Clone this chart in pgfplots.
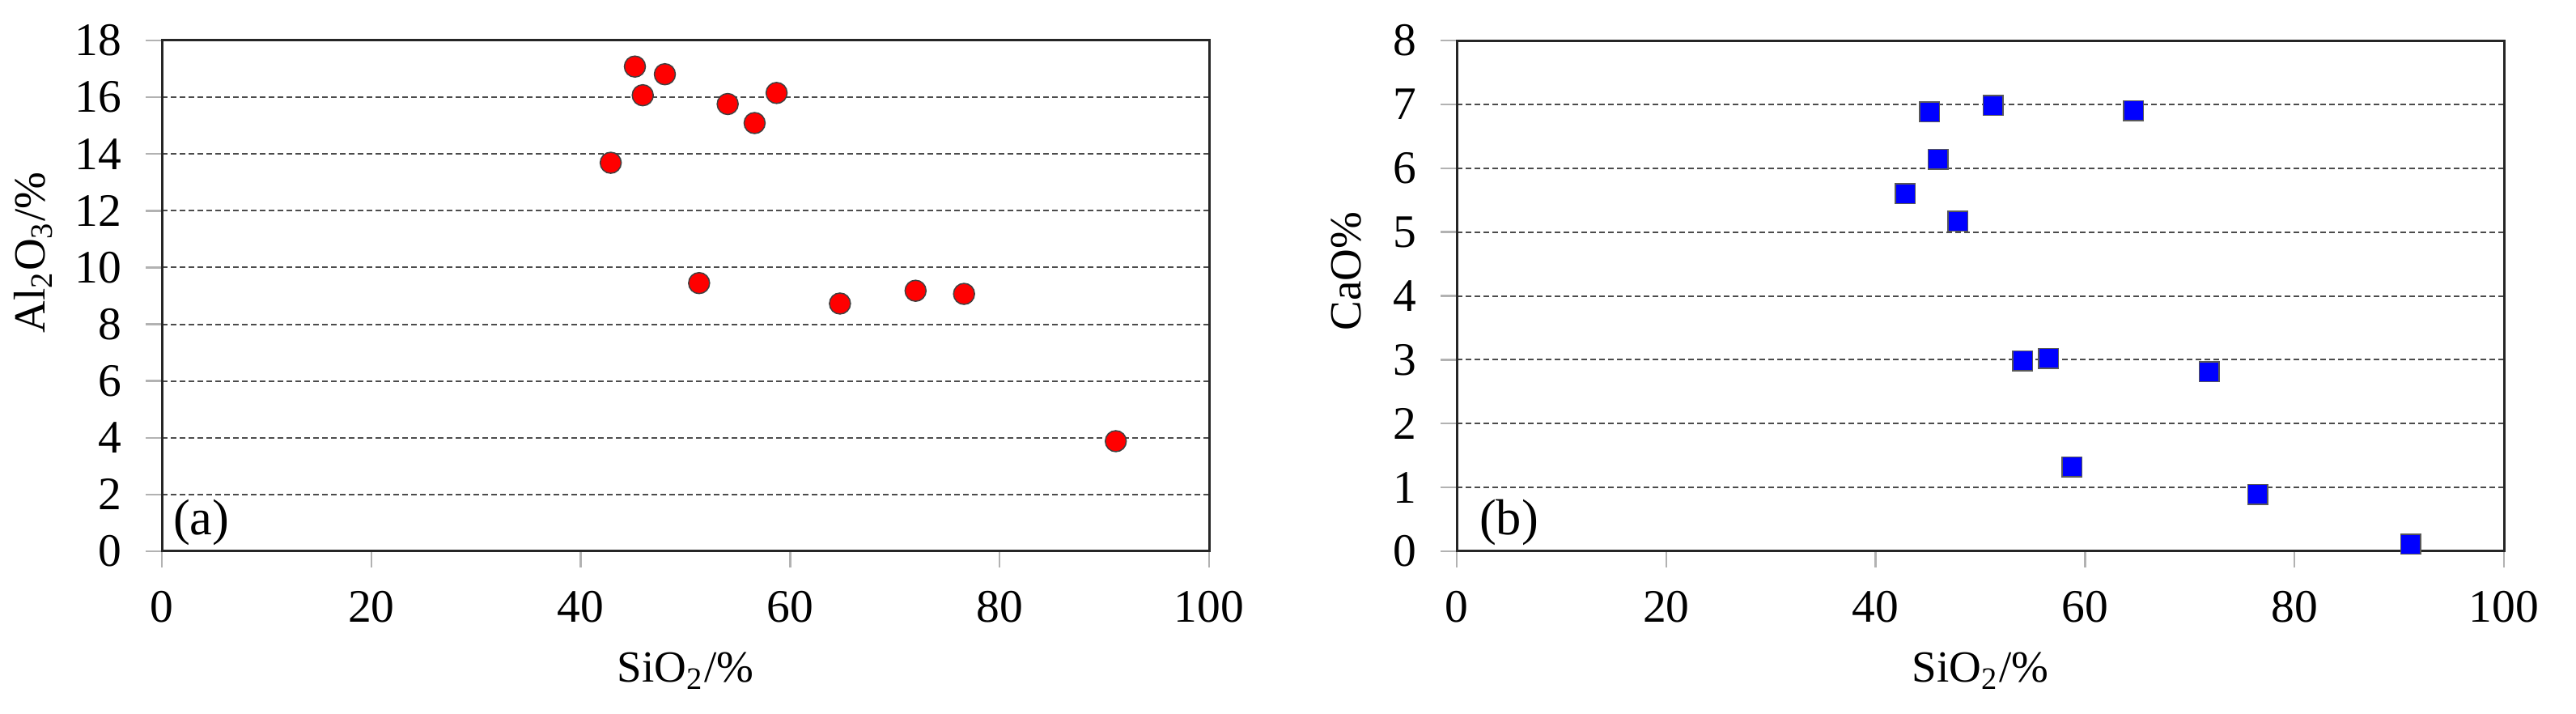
\documentclass[border=0pt]{standalone}
\usepackage{fontspec}
\setmainfont{Liberation Serif}
\usepackage{pgfplots}
\pgfplotsset{compat=1.18}

\pgfplotsset{
  panel/.style={
    scale only axis, width=258.8pt, height=126.2pt,
    anchor=south west,
    xmin=0, xmax=100, xtick={0,20,...,100},
    tick align=outside, xtick pos=left, ytick pos=left,
    major tick length=4pt,
    tick style={gray!60, line width=0.5pt},
    axis line style={black!85, line width=0.6pt},
    ymajorgrids,
    grid style={black!70, line width=0.4pt, dash pattern=on 1.3pt off 0.9pt},
    /pgf/number format/assume math mode=true,
    ticklabel style={font=\fontsize{11.5}{13}\selectfont},
    label style={font=\fontsize{11}{13}\selectfont},
    yticklabel style={xshift=-2.5pt},
    xticklabel style={yshift=-2.3pt},
    xlabel={SiO\textsubscript{2}/\%},
    xlabel style={at={([yshift=-32.4pt]axis description cs:0.5,0)}, anchor=base},
    clip=false,
  }
}

\begin{document}
\begin{tikzpicture}
\useasboundingbox (0,0) rectangle (636.6pt,176.4pt);

\begin{axis}[panel, at={(40pt,40.2pt)},
  ymin=0, ymax=18, ytick={0,2,...,18},
  ylabel={Al\textsubscript{2}O\textsubscript{3}/\%},
  ylabel style={at={([xshift=-28.8pt]axis description cs:0,0.585)}, anchor=base},
]
\addplot[only marks, mark=*, mark size=2.6pt,
  mark options={fill=red, draw=black!75, line width=0.3pt}]
  coordinates {
  (42.86,13.69) (45.17,17.08) (45.92,16.07) (48.03,16.81)
  (51.30,9.45) (54.03,15.76) (56.60,15.09) (58.70,16.15)
  (64.75,8.73) (71.97,9.18) (76.60,9.07) (91.09,3.88)
  };
\node[anchor=west, inner sep=0pt, font=\fontsize{12.5}{14}\selectfont]
  at ([xshift=2.6pt, yshift=7.2pt]rel axis cs:0,0) {(a)};
\end{axis}

\begin{axis}[panel, at={(360pt,40.2pt)},
  ymin=0, ymax=8, ytick={0,1,...,8},
  ylabel={CaO\%},
  ylabel style={at={([xshift=-23.8pt]axis description cs:0,0.548)}, anchor=base},
]
\addplot[only marks, mark=square*, mark size=2.45pt,
  mark options={fill=blue, draw=black!65, line width=0.3pt}]
  coordinates {
  (42.82,5.60) (45.16,6.88) (45.97,6.14) (47.86,5.17)
  (51.21,6.98) (54.03,2.98) (56.49,3.02) (58.75,1.32)
  (64.64,6.90) (71.85,2.81) (76.49,0.89) (91.09,0.11)
  };
\node[anchor=west, inner sep=0pt, font=\fontsize{12.5}{14}\selectfont]
  at ([xshift=5.4pt, yshift=7.2pt]rel axis cs:0,0) {(b)};
\end{axis}
\end{tikzpicture}
\end{document}
